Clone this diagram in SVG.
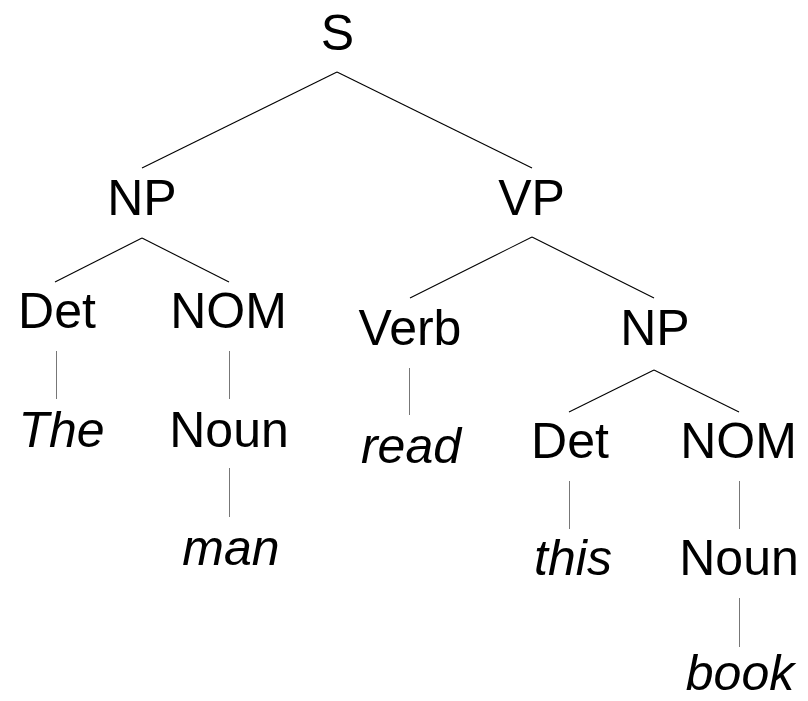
<svg xmlns="http://www.w3.org/2000/svg" width="808" height="701" viewBox="0 0 808 701">
<style>
text{font-family:"Liberation Sans",Arial,sans-serif;font-size:50px;fill:#000;text-anchor:middle}
.w{font-style:italic}
#edges line{stroke:#000;stroke-width:1.1;fill:none}
#edges line.v{stroke:#777;stroke-width:1}
</style>
<rect width="808" height="701" fill="#fff"/>
<g id="edges">
<line x1="337" y1="72" x2="142" y2="168"/>
<line x1="337" y1="72" x2="532" y2="168"/>
<line x1="142" y1="238" x2="55" y2="282"/>
<line x1="142" y1="238" x2="229" y2="282"/>
<line x1="532" y1="237" x2="410" y2="298"/>
<line x1="532" y1="237" x2="654" y2="298"/>
<line x1="654" y1="370" x2="569" y2="412"/>
<line x1="654" y1="370" x2="739" y2="412"/>
<line class="v" x1="56.5" y1="351" x2="56.5" y2="399"/>
<line class="v" x1="229.5" y1="351" x2="229.5" y2="399"/>
<line class="v" x1="229.5" y1="468" x2="229.5" y2="517"/>
<line class="v" x1="409.5" y1="368" x2="409.5" y2="415"/>
<line class="v" x1="569.5" y1="481" x2="569.5" y2="529"/>
<line class="v" x1="739.5" y1="481" x2="739.5" y2="529"/>
<line class="v" x1="739.5" y1="598" x2="739.5" y2="647"/>
</g>
<g id="S"><text x="337.5" y="50">S</text></g>
<g id="NP1"><text x="142" y="215">NP</text></g>
<g id="VP"><text x="531.5" y="215">VP</text></g>
<g id="Det1"><text x="57" y="328">Det</text></g>
<g id="NOM1"><text x="228.5" y="328">NOM</text></g>
<g id="Verb"><text x="410" y="345">Verb</text></g>
<g id="NP2"><text x="655" y="345">NP</text></g>
<g id="The"><text class="w" x="61.5" y="447">The</text></g>
<g id="Noun1"><text x="229" y="447">Noun</text></g>
<g id="read"><text class="w" x="411" y="463">read</text></g>
<g id="Det2"><text x="570" y="458">Det</text></g>
<g id="NOM2"><text x="738.5" y="458">NOM</text></g>
<g id="man"><text class="w" x="231" y="565">man</text></g>
<g id="this"><text class="w" x="573" y="575">this</text></g>
<g id="Noun2"><text x="739" y="575">Noun</text></g>
<g id="book"><text class="w" x="740" y="690">book</text></g>
</svg>
